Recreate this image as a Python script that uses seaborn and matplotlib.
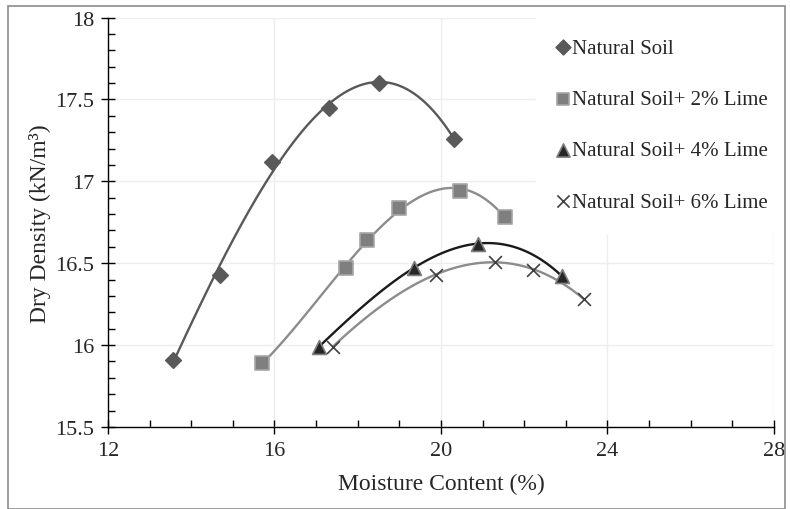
import matplotlib.pyplot as plt
import seaborn as sns
import numpy as np
import pandas as pd
from matplotlib.patches import Rectangle
from matplotlib.ticker import MultipleLocator

# moisture content (%) / dry density (kN/m3)
natural_mc = [13.56, 14.69, 15.95, 17.30, 18.51, 20.32]
natural_dd = [15.91, 16.43, 17.12, 17.45, 17.60, 17.26]
lime2_mc = [15.71, 17.71, 18.22, 19.00, 20.46, 21.55]
lime2_dd = [15.89, 16.47, 16.64, 16.84, 16.94, 16.78]
lime4_mc = [17.07, 19.34, 20.89, 22.91]
lime4_dd = [15.99, 16.47, 16.62, 16.42]
lime6_mc = [17.40, 19.88, 21.30, 22.21, 23.44]
lime6_dd = [15.99, 16.43, 16.51, 16.46, 16.28]

labels = ["Natural Soil", "Natural Soil+ 2% Lime", "Natural Soil+ 4% Lime", "Natural Soil+ 6% Lime"]

sns.set_style("white")
plt.rcParams["font.family"] = ["Liberation Serif", "DejaVu Serif"]

series = [
    (natural_mc, natural_dd, "D", "#595959", "#595959", "#595959", 62),
    (lime2_mc, lime2_dd, "s", "#8c8c8c", "#7f7f7f", "#a6a6a6", 95),
    (lime4_mc, lime4_dd, "^", "#1a1a1a", "#262626", "#7f7f7f", 100),
    (lime6_mc, lime6_dd, "x", "#8c8c8c", "#404040", "#404040", 85),
]

fig = plt.figure(figsize=(7.9, 5.1), dpi=100)
ax = fig.add_axes([0.1367, 0.1608, 0.8430, 0.8029])

for (mc, dd, mk, lc, fc, ec, sz), lab in zip(series, labels):
    df = pd.DataFrame({"mc": mc, "dd": dd})
    # polynomial trendline like the excel one
    sns.regplot(data=df, x="mc", y="dd", order=3, ci=None, scatter=False,
                truncate=True, ax=ax, line_kws={"color": lc, "lw": 1.7, "zorder": 2})
    if mk == "x":
        sns.scatterplot(data=df, x="mc", y="dd", marker=mk, s=sz, color=fc,
                        linewidth=1.2, ax=ax, label=lab, zorder=3)
    else:
        sns.scatterplot(data=df, x="mc", y="dd", marker=mk, s=sz, color=fc,
                        edgecolor=ec, linewidth=1.2, ax=ax, label=lab, zorder=3)

ax.set_xlim(12, 28)
ax.set_ylim(15.5, 18)
ax.xaxis.set_major_locator(MultipleLocator(4))
ax.xaxis.set_minor_locator(MultipleLocator(1))
ax.yaxis.set_minor_locator(MultipleLocator(0.1))
ax.set_yticks([15.5, 16, 16.5, 17, 17.5, 18])
ax.set_yticklabels(["15.5", "16", "16.5", "17", "17.5", "18"])
ax.tick_params(which="major", direction="inout", length=10, width=1, color="black",
               labelsize=16, pad=5)
ax.tick_params(which="minor", direction="in", length=5, width=1, color="black")
ax.tick_params(axis="x", which="both", bottom=True)
ax.tick_params(axis="y", which="both", left=True)
ax.grid(True, which="major", color="#eeeeee", lw=1)
ax.set_axisbelow(True)
for s in ["top", "right"]:
    ax.spines[s].set_visible(False)
for s in ["left", "bottom"]:
    ax.spines[s].set_color("black")
    ax.spines[s].set_linewidth(1)

ax.set_xlabel("Moisture Content (%)", fontsize=17, labelpad=9)
ax.set_ylabel("Dry Density (kN/m³)", fontsize=17, labelpad=3)

leg = ax.legend(loc="upper right", bbox_to_anchor=(1.0225, 1.0), fontsize=15,
                frameon=True, facecolor="white", edgecolor="white", framealpha=1,
                fancybox=False, markerscale=0.95, handlelength=0.6, handletextpad=0.13,
                labelspacing=1.52, borderpad=1.0, borderaxespad=0.0)
leg.set_zorder(5)

fig.patches.append(Rectangle((0.010, 0.0), 0.984, 0.986, transform=fig.transFigure,
                             fill=False, edgecolor="#8c8c8c", lw=1.2, zorder=10))

plt.savefig("out.png", dpi=100)
